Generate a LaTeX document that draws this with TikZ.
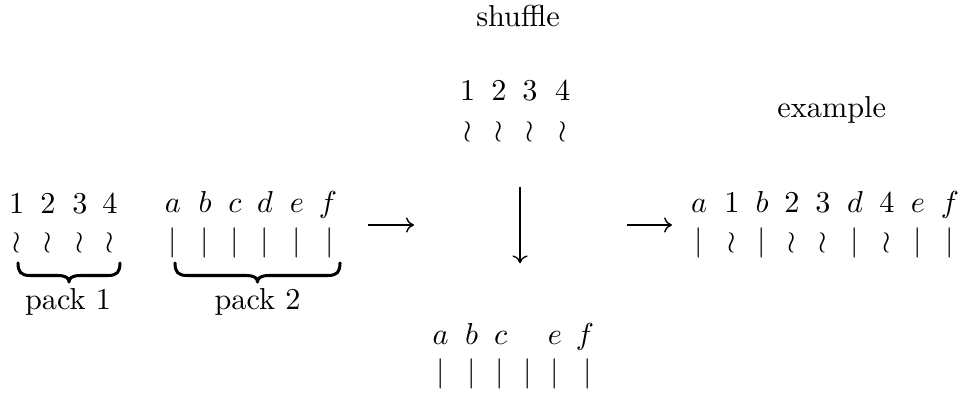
\documentclass[tikz,border=0pt]{standalone}
\usetikzlibrary{arrows.meta}
\begin{document}
\begin{tikzpicture}[x=0.33pt,y=-0.33pt,
  g/.style={inner sep=0pt,anchor=base},
  brace/.style={line width=1pt,line cap=round,line join=round},
  arr/.style={-{Computer Modern Rightarrow[length=2.6pt,width=5pt]},line width=0.45pt}]
\useasboundingbox (0,0) rectangle (963,394);
\node[g] (shuffle) at (518,26.7) {shuffle};
\node[g] (example) at (831.7,118) {example};
% pack 1
\foreach \n/\x in {1/16.7,2/48,3/80,4/110} {
  \node[g] (Ln\n) at (\x,214) {$\n$};
  \node[g] (Lw\n) at (\x,250.5) {$\wr$};
}
% pack 2
\foreach \l/\x in {a/173,b/205,c/235,d/265,e/297,f/328} {
  \node[g] (Ml\l) at (\x,213) {$\l$};
}
\foreach \i/\x in {1/173,2/205,3/235,4/265,5/297,6/330} {
  \node[g] (Mb\i) at (\x,250.5) {$\vert$};
}
% braces
\foreach \nm/\a/\b in {B1/18/120,B2/175/340} {
  \pgfmathsetmacro{\m}{(\a+\b)/2}
  \draw[brace] (\a,263) .. controls (\a,272) and (\a+3,275.5) .. (\a+12,275.5)
     -- (\m-12,275.5) .. controls (\m-3,275.5) and (\m,278) .. (\m,282)
     .. controls (\m,278) and (\m+3,275.5) .. (\m+12,275.5)
     -- (\b-12,275.5) .. controls (\b-3,275.5) and (\b,272) .. (\b,263);
}
\node[g] (P1) at (68,310) {pack 1};
\node[g] (P2) at (257.5,310) {pack 2};
% left arrow
\coordinate (la1) at (368,225);
\coordinate (la2) at (414,225);
\draw[arr] (la1) -- (la2);
% top middle
\foreach \n/\x in {1/467.7,2/499,3/530,4/562.7} {
  \node[g] (Tn\n) at (\x,100.7) {$\n$};
  \node[g] (Tw\n) at (\x,139.5) {$\wr$};
}
% down arrow
\coordinate (da1) at (520,186.7);
\coordinate (da2) at (520,263.3);
\draw[arr] (da1) -- (da2);
% bottom middle
\foreach \l/\x in {a/440.7,b/471.7,c/500.7,e/555,f/585} {
  \node[g] (Bl\l) at (\x,345) {$\l$};
}
\foreach \i/\x in {1/440.7,2/471.7,3/500,4/527.3,5/555,6/587.3} {
  \node[g] (Bb\i) at (\x,382) {$\vert$};
}
% right arrow
\coordinate (ra1) at (627,225);
\coordinate (ra2) at (672,225);
\draw[arr] (ra1) -- (ra2);
% example
\foreach \i/\t/\s/\x in {1/a/\vert/699,2/1/\wr/732,3/b/\vert/762,4/2/\wr/792,5/3/\wr/823,6/d/\vert/855,7/4/\wr/887,8/e/\vert/918,9/f/\vert/950} {
  \node[g] (Rt\i) at (\x,213) {$\t$};
  \node[g] (Rs\i) at (\x,250.5) {$\s$};
}
\end{tikzpicture}
\end{document}
